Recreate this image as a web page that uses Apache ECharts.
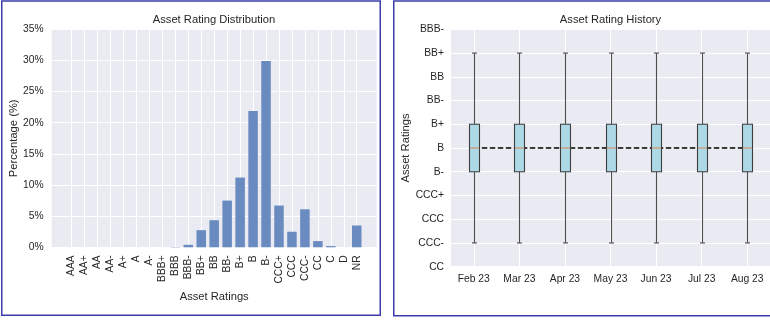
<!DOCTYPE html>
<html><head><meta charset="utf-8">
<script src="https://cdn.jsdelivr.net/npm/echarts@6/dist/echarts.min.js"></script>
<style>html,body{margin:0;padding:0;background:#fff}#c{width:770px;height:321px}</style>
</head><body><div id="c"></div>
<script>
// ---- Left chart data ----
const ratingCategories = ["AAA","AA+","AA","AA-","A+","A","A-","BBB+","BBB","BBB-","BB+","BB","BB-","B+","B","B-","CCC+","CCC","CCC-","CC","C","D","NR"];
const ratingPercent = [0,0,0,0,0,0,0,0,0.05,0.4,2.75,4.35,7.5,11.2,21.9,29.9,6.7,2.5,6.1,1.0,0.2,0,3.5];
const percentTicks = [0,5,10,15,20,25,30,35];

// ---- Right chart data ----
const months = ["Feb 23","Mar 23","Apr 23","May 23","Jun 23","Jul 23","Aug 23"];
const historyScale = ["CC","CCC-","CCC","CCC+","B-","B","B+","BB-","BB","BB+","BBB-"];
const whiskerLow  = ["CCC-","CCC-","CCC-","CCC-","CCC-","CCC-","CCC-"];
const quartile1   = ["B-","B-","B-","B-","B-","B-","B-"];
const medianRating= ["B","B","B","B","B","B","B"];
const quartile3   = ["B+","B+","B+","B+","B+","B+","B+"];
const whiskerHigh = ["BB+","BB+","BB+","BB+","BB+","BB+","BB+"];

const FONT = "Liberation Sans";
const TXT = "#262626";
const TICK = 10.3, LBL = 11.2;
const idx = r => historyScale.indexOf(r);
const boxData = months.map((m,i)=>[i, idx(whiskerLow[i]), idx(quartile1[i]), idx(medianRating[i]), idx(quartile3[i]), idx(whiskerHigh[i])]);
const medianLine = medianRating.map(idx);
const catIdx = ratingCategories.map((c,i)=>i);

const chart = echarts.init(document.getElementById('c'), null, {renderer:'canvas'});
chart.setOption({
  backgroundColor:'#ffffff',
  animation:false,
  textStyle:{fontFamily:FONT, color:TXT},
  title:[
    {text:'Asset Rating Distribution', left:214, top:14, padding:0, textAlign:'center',
     textStyle:{fontFamily:FONT, fontSize:LBL, fontWeight:'normal', color:TXT}},
    {text:'Asset Rating History', left:610.5, top:14, padding:0, textAlign:'center',
     textStyle:{fontFamily:FONT, fontSize:LBL, fontWeight:'normal', color:TXT}}
  ],
  grid:[
    {left:51.7, top:29.3, width:325, height:218, show:true, backgroundColor:'#EAEAF2', borderWidth:0},
    {left:451, top:29.3, width:319, height:237.4, show:true, backgroundColor:'#EAEAF2', borderWidth:0}
  ],
  xAxis:[
    {gridIndex:0, type:'value', min:-1.54, max:23.54,
     axisLine:{show:false},
     axisTick:{show:false, customValues:catIdx},
     axisLabel:{customValues:catIdx, rotate:90, margin:8, fontSize:TICK, color:TXT, fontFamily:FONT,
       formatter:v=>ratingCategories[v]},
     splitLine:{show:true, lineStyle:{color:'#ffffff', width:1}},
     name:'Asset Ratings', nameLocation:'middle', nameGap:38,
     nameTextStyle:{fontSize:LBL, color:TXT, fontFamily:FONT}},
    {gridIndex:1, type:'category', data:months, boundaryGap:true,
     axisLine:{show:false}, axisTick:{show:false, alignWithLabel:true},
     axisLabel:{margin:7, fontSize:TICK, color:TXT, fontFamily:FONT},
     splitLine:{show:true, alignWithLabel:true, lineStyle:{color:'#ffffff', width:1}}}
  ],
  yAxis:[
    {gridIndex:0, type:'value', min:percentTicks[0], max:percentTicks[percentTicks.length-1], interval:5,
     axisLine:{show:false}, axisTick:{show:false},
     axisLabel:{margin:8, fontSize:TICK, color:TXT, fontFamily:FONT, formatter:v=>v+'%'},
     splitLine:{show:true, lineStyle:{color:'#ffffff', width:1}},
     name:'Percentage (%)', nameLocation:'middle', nameGap:32,
     nameTextStyle:{fontSize:LBL, color:TXT, fontFamily:FONT}},
    {gridIndex:1, type:'value', min:0, max:historyScale.length-1, interval:1,
     axisLine:{show:false}, axisTick:{show:false},
     axisLabel:{margin:7, fontSize:TICK, color:TXT, fontFamily:FONT, formatter:v=>historyScale[v]},
     splitLine:{show:true, lineStyle:{color:'#ffffff', width:1}},
     name:'Asset Ratings', nameLocation:'middle', nameGap:40,
     nameTextStyle:{fontSize:LBL, color:TXT, fontFamily:FONT}}
  ],
  series:[
    {type:'bar', xAxisIndex:0, yAxisIndex:0, barWidth:9.5,
     data:ratingPercent.map((v,i)=>[i,v]),
     itemStyle:{color:'#6a8bc0'}},
    {type:'line', xAxisIndex:1, yAxisIndex:1, data:medianLine, symbol:'none', z:2,
     lineStyle:{color:'#000000', width:1.6, type:[5.5,2.5]}},
    {type:'custom', xAxisIndex:1, yAxisIndex:1, z:5, data:boxData,
     encode:{x:0, y:[1,2,3,4,5]},
     renderItem:function(params, api){
       const x = api.value(0);
       const pL = api.coord([x, api.value(1)]);
       const p1 = api.coord([x, api.value(2)]);
       const pM = api.coord([x, api.value(3)]);
       const p3 = api.coord([x, api.value(4)]);
       const pH = api.coord([x, api.value(5)]);
       const cx = Math.round(pL[0]) + 0.5;
       const bw = 10, cw = 5;
       const ws = {stroke:'#4d4d4d', lineWidth:1.1};
       return {type:'group', children:[
         {type:'line', shape:{x1:cx,y1:pH[1],x2:cx,y2:p3[1]}, style:ws},
         {type:'line', shape:{x1:cx,y1:p1[1],x2:cx,y2:pL[1]}, style:ws},
         {type:'line', shape:{x1:cx-cw/2,y1:pH[1],x2:cx+cw/2,y2:pH[1]}, style:ws},
         {type:'line', shape:{x1:cx-cw/2,y1:pL[1],x2:cx+cw/2,y2:pL[1]}, style:ws},
         {type:'rect', shape:{x:cx-bw/2, y:p3[1], width:bw, height:p1[1]-p3[1]},
          style:{fill:'#ADD8E6', stroke:'#3d3d3d', lineWidth:1.1}},
         {type:'line', shape:{x1:cx-bw/2+0.6,y1:pM[1],x2:cx+bw/2-0.6,y2:pM[1]},
          style:{stroke:'#DD8452', lineWidth:1}}
       ]};
     }}
  ],
  graphic:[
    {type:'rect', silent:true, z:100, shape:{x:1.75, y:1, width:378.5, height:314.2},
     style:{fill:null, stroke:'#3c3caa', lineWidth:1.5}},
    {type:'rect', silent:true, z:100, shape:{x:393.75, y:1, width:400, height:314.7},
     style:{fill:null, stroke:'#3c3caa', lineWidth:1.5}}
  ]
});
</script></body></html>
